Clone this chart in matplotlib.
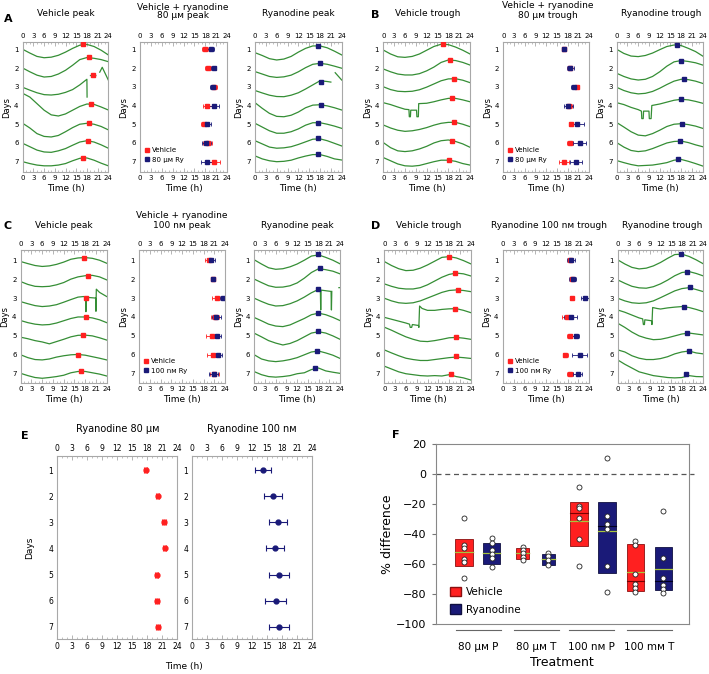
import numpy as np
import matplotlib.pyplot as plt
from matplotlib.ticker import MultipleLocator
from matplotlib.lines import Line2D
from matplotlib.patches import Patch

W, H = 709, 674
nan = np.nan
days = [1, 2, 3, 4, 5, 6, 7]
hrs = [0, 2, 4, 6, 8, 10, 12, 14, 16, 18, 20, 22, 24]

# traces: height above the day line (day units), sampled every 2 h
# A, vehicle peak
a_veh = [
    [0, -0.2, -0.38, -0.45, -0.42, -0.32, -0.15, 0.05, 0.22, 0.26, 0.15, -0.05, -0.3],
    [0, -0.2, -0.38, -0.48, -0.45, -0.32, -0.12, 0.15, 0.45, 0.56, 0.52, 0.45, 0.34],
    [-0.03, -0.18, -0.32, -0.42, -0.44, -0.4, -0.3, -0.15, 0.1, 0.4, -0.55, nan, 0.6, 0.6, nan, 0.78, 1.04, 0.36],
    [0.65, 0.45, 0.1, -0.25, -0.5, -0.56, -0.45, -0.25, -0.05, 0.08, 0.06, -0.08, -0.24],
    [0.05, -0.2, -0.5, -0.65, -0.68, -0.6, -0.4, -0.18, 0, 0.05, 0.0, -0.12, -0.3],
    [-0.02, -0.2, -0.38, -0.48, -0.5, -0.42, -0.3, -0.12, 0.05, 0.12, 0.05, -0.1, -0.28],
    [0, -0.1, -0.18, -0.22, -0.22, -0.18, -0.1, 0.05, 0.18, 0.2, 0.08, -0.08, -0.22],
]
a_veh_h = {2: [0, 2, 4, 6, 8, 10, 12, 14, 16, 18, 18.05, nan, 19, 20.5, nan, 21.6, 22.3, 24]}
a_veh_pk_t = [17.0, 18.7, 19.6, 19.1, 18.7, 18.4, 17.0]
a_veh_pk_y = [0.72, 1.43, 2.38, 3.9, 4.92, 5.88, 6.8]

# A, ryanodine peak
a_ry = [
    [-0.18, -0.33, -0.5, -0.57, -0.52, -0.38, -0.15, 0.05, 0.18, 0.18, 0.08, -0.1, -0.3],
    [-0.19, -0.32, -0.45, -0.5, -0.47, -0.38, -0.2, 0.02, 0.2, 0.25, 0.2, 0.1, -0.01],
    [-0.2, -0.33, -0.45, -0.52, -0.53, -0.45, -0.32, -0.12, 0.1, 0.32, 0.28, 0.25, nan, 0.75, 0.36],
    [0.15, -0.15, -0.42, -0.58, -0.6, -0.52, -0.35, -0.12, 0.02, 0.04, -0.02, -0.12, -0.24],
    [0.05, -0.15, -0.35, -0.48, -0.48, -0.4, -0.25, -0.05, 0.08, 0.08, 0.0, -0.1, -0.22],
    [0.12, -0.05, -0.22, -0.28, -0.26, -0.2, -0.08, 0.06, 0.2, 0.22, 0.12, -0.02, -0.16],
    [0.31, 0.15, 0.05, 0.0, 0.02, 0.08, 0.2, 0.3, 0.38, 0.38, 0.28, 0.15, 0.09],
]
a_ry_h = {2: [0, 2, 4, 6, 8, 10, 12, 14, 16, 18, 20, 21, nan, 22.2, 24]}
a_ry_pk_t = [17.4, 17.9, 18.4, 18.3, 17.5, 17.4, 17.4]
a_ry_pk_y = [0.8, 1.75, 2.72, 3.97, 4.91, 5.75, 6.59]

# A, middle
a_mid_veh = [18.0, 18.7, 20.4, 18.6, 17.6, 18.7, 20.3]
a_mid_veh_err = [0.8, 0.8, 0.9, 1.3, 0.8, 1.2, 1.9]
a_mid_ry = [19.5, 20.3, 20.0, 20.4, 18.5, 18.3, 18.6]
a_mid_ry_err = [1.0, 0.8, 0.8, 1.3, 1.2, 1.2, 1.9]

# B, vehicle trough
b_veh = [
    [-0.04, -0.25, -0.4, -0.43, -0.38, -0.25, -0.05, 0.15, 0.27, 0.25, 0.12, -0.05, -0.25],
    [-0.05, -0.2, -0.32, -0.37, -0.37, -0.3, -0.15, 0.05, 0.3, 0.43, 0.4, 0.3, 0.16],
    [0.0, -0.15, -0.24, -0.26, -0.24, -0.16, -0.02, 0.15, 0.32, 0.42, 0.43, 0.35, 0.22],
    [0.15, 0.05, -0.08, -0.2, -0.22, -0.6, -0.6, -0.25, -0.25, -0.6, -0.6, 0.1, 0.12, 0.2, 0.3, 0.38, 0.38, 0.3, 0.2],
    [-0.04, -0.2, -0.32, -0.38, -0.35, -0.28, -0.18, -0.05, 0.05, 0.1, 0.1, 0.0, -0.13],
    [0.02, -0.25, -0.42, -0.46, -0.42, -0.32, -0.18, 0.0, 0.12, 0.16, 0.08, -0.05, -0.23],
    [0.22, 0.05, -0.12, -0.22, -0.24, -0.2, -0.1, 0.0, 0.08, 0.08, 0.02, -0.1, -0.18],
]
b_veh_h = {3: [0, 2, 4, 6, 7.1, 7.2, 7.5, 7.6, 9.2, 9.3, 9.7, 9.8, 12, 14, 16, 18, 20, 22, 24]}
b_veh_pk_t = [16.6, 18.5, 19.6, 19.0, 19.6, 19.0, 18.1]
b_veh_pk_y = [0.72, 1.57, 2.57, 3.62, 4.88, 5.87, 6.92]

# B, ryanodine trough
b_ry = [
    [0, -0.22, -0.36, -0.39, -0.33, -0.2, -0.02, 0.15, 0.23, 0.2, 0.05, -0.12, -0.36],
    [-0.28, -0.45, -0.58, -0.64, -0.6, -0.45, -0.2, 0.1, 0.33, 0.4, 0.35, 0.28, 0.16],
    [-0.03, -0.2, -0.32, -0.38, -0.35, -0.25, -0.08, 0.12, 0.3, 0.4, 0.38, 0.3, 0.18],
    [0.15, 0.05, -0.1, -0.22, -0.3, -0.7, -0.7, -0.3, -0.3, -0.7, -0.7, 0.0, 0.08, 0.18, 0.28, 0.33, 0.3, 0.22, 0.12],
    [0.09, -0.15, -0.4, -0.58, -0.62, -0.5, -0.32, -0.12, 0.0, 0.03, -0.02, -0.1, -0.22],
    [0.02, -0.22, -0.4, -0.46, -0.42, -0.3, -0.15, 0.0, 0.08, 0.1, 0.02, -0.1, -0.2],
    [0.06, -0.05, -0.15, -0.22, -0.2, -0.18, -0.12, -0.05, 0.08, 0.12, 0.02, -0.1, -0.23],
]
b_ry_h = {3: [0, 2, 4, 6, 6.9, 7.0, 7.4, 7.5, 9.0, 9.1, 9.6, 9.8, 12, 14, 16, 18, 20, 22, 24]}
b_ry_pk_t = [16.7, 18.0, 18.8, 18.0, 18.2, 17.8, 17.2]
b_ry_pk_y = [0.77, 1.6, 2.6, 3.67, 4.97, 5.9, 6.88]

# B, middle
b_mid_veh = [17.0, 18.7, 20.7, 18.3, 18.9, 18.7, 17.1]
b_mid_veh_err = [0.4, 0.6, 0.6, 0.8, 0.6, 0.9, 1.4]
b_mid_ry = [17.1, 18.8, 19.9, 18.2, 20.7, 21.4, 20.4]
b_mid_ry_err = [0.5, 0.9, 1.0, 1.3, 1.8, 1.8, 1.6]

# C, vehicle peak
c_veh = [
    [-0.07, -0.18, -0.28, -0.33, -0.3, -0.22, -0.1, 0.05, 0.12, 0.14, 0.1, 0.0, -0.16],
    [-0.13, -0.28, -0.38, -0.4, -0.38, -0.3, -0.18, 0.0, 0.12, 0.18, 0.2, 0.12, -0.04],
    [-0.19, -0.3, -0.4, -0.45, -0.42, -0.35, -0.22, -0.08, 0.05, 0.08, 0.06, -0.72, 0.04, 0.0, -0.7, 0.47, 0.3, 0.08],
    [-0.19, -0.3, -0.38, -0.42, -0.4, -0.32, -0.2, -0.08, 0.0, 0.0, -0.05, -0.15, -0.3],
    [-0.07, -0.15, -0.25, -0.32, -0.42, -0.3, -0.18, -0.05, 0.03, 0.04, 0.0, -0.1, -0.22],
    [0.0, -0.15, -0.25, -0.27, -0.22, -0.12, -0.05, 0.0, 0.02, -0.02, -0.1, -0.18, -0.27],
    [0.02, -0.1, -0.2, -0.24, -0.2, -0.15, -0.08, 0.05, 0.12, 0.12, 0.05, -0.02, -0.12],
]
c_veh_h = {2: [0, 2, 4, 6, 8, 10, 12, 14, 16, 17.5, 18.1, 18.2, 18.3, 20.9, 21.0, 21.1, 22, 24]}
c_veh_pk_t = [17.8, 18.9, 18.2, 18.2, 17.3, 16.1, 16.8]
c_veh_pk_y = [0.86, 1.81, 2.98, 4.02, 4.95, 6.0, 6.84]

# C, ryanodine peak
c_ry = [
    [0.02, -0.2, -0.4, -0.48, -0.45, -0.35, -0.2, 0.0, 0.22, 0.28, 0.15, 0.0, -0.19],
    [0.0, -0.18, -0.35, -0.43, -0.42, -0.35, -0.2, 0.05, 0.35, 0.55, 0.5, 0.42, 0.28],
    [-0.01, -0.18, -0.33, -0.42, -0.4, -0.3, -0.15, 0.05, 0.28, 0.45, 0.42, -0.63, 0.42, 0.35, -0.63, 0.35, nan, 0.55, 0.55],
    [-0.03, -0.2, -0.38, -0.48, -0.51, -0.42, -0.25, -0.08, 0.12, 0.2, 0.12, -0.02, -0.19],
    [0.14, -0.05, -0.25, -0.38, -0.48, -0.4, -0.25, -0.05, 0.15, 0.22, 0.15, 0.0, -0.18],
    [0.0, -0.22, -0.32, -0.36, -0.32, -0.25, -0.15, 0.0, 0.15, 0.2, 0.1, -0.02, -0.19],
    [0.11, -0.05, -0.15, -0.18, -0.15, -0.1, 0.0, 0.05, 0.22, 0.3, 0.15, 0.08, 0.02],
]
c_ry_h = {2: [0, 2, 4, 6, 8, 10, 12, 14, 16, 17.9, 18.5, 18.6, 18.7, 21.5, 21.6, 21.7, nan, 23.7, 24]}
c_ry_pk_t = [17.8, 18.4, 17.9, 17.9, 17.9, 17.5, 17.0]
c_ry_pk_y = [0.68, 1.39, 2.53, 3.8, 4.74, 5.78, 6.68]

# C, middle
c_mid_veh = [19.6, 20.6, 21.8, 21.2, 20.4, 20.7, 21.0]
c_mid_veh_err = [1.1, 0.6, 1.5, 1.2, 1.6, 1.8, 1.2]
c_mid_ry = [20.2, 20.7, 23.3, 21.6, 21.7, 22.1, 20.8]
c_mid_ry_err = [1.0, 0.6, 0.8, 1.2, 1.2, 1.0, 1.2]

# D, vehicle trough
d_veh = [
    [-0.07, -0.28, -0.45, -0.55, -0.53, -0.42, -0.25, -0.05, 0.15, 0.19, 0.12, -0.02, -0.19],
    [-0.25, -0.38, -0.48, -0.52, -0.52, -0.45, -0.3, -0.1, 0.1, 0.25, 0.32, 0.28, 0.17],
    [-0.01, -0.15, -0.25, -0.28, -0.25, -0.15, 0.0, 0.15, 0.3, 0.4, 0.43, 0.4, 0.34],
    [-0.02, -0.12, -0.22, -0.32, -0.38, -0.55, -0.55, -0.4, -0.45, -0.55, 0.58, 0.45, 0.35, 0.35, 0.4, 0.43, 0.44, 0.35, 0.23],
    [0.46, 0.3, 0.12, -0.05, -0.18, -0.28, -0.3, -0.25, -0.18, -0.1, -0.08, -0.12, -0.18],
    [0.26, 0.1, -0.05, -0.18, -0.25, -0.3, -0.3, -0.25, -0.2, -0.15, -0.12, -0.15, -0.19],
    [0.4, 0.25, 0.1, 0.0, -0.05, -0.1, -0.12, -0.1, -0.12, -0.05, -0.15, -0.22, -0.33],
]
d_veh_h = {3: [0, 2, 4, 6, 7, 7.2, 7.6, 7.8, 9.5, 9.6, 9.8, 10.5, 12, 14, 16, 18, 20, 22, 24]}
d_veh_pk_t = [18.1, 19.6, 20.6, 19.6, 19.9, 19.9, 18.5]
d_veh_pk_y = [0.81, 1.65, 2.57, 3.56, 5.04, 6.06, 7.02]

# D, ryanodine trough
d_ry = [
    [0.02, -0.2, -0.38, -0.46, -0.42, -0.3, -0.12, 0.1, 0.3, 0.32, 0.2, 0.02, -0.19],
    [-0.04, -0.22, -0.38, -0.46, -0.48, -0.4, -0.25, -0.05, 0.18, 0.35, 0.4, 0.3, 0.17],
    [-0.01, -0.15, -0.25, -0.28, -0.25, -0.15, 0.02, 0.2, 0.38, 0.5, 0.55, 0.45, 0.34],
    [0.37, 0.25, 0.1, -0.05, -0.1, -0.4, -0.4, -0.15, -0.2, -0.4, 0.5, 0.45, 0.42, 0.48, 0.52, 0.55, 0.5, 0.4, 0.28],
    [0.67, 0.45, 0.2, 0.0, -0.12, -0.2, -0.18, -0.1, 0.0, 0.1, 0.15, 0.1, 0.05],
    [0.26, 0.15, -0.05, -0.18, -0.25, -0.25, -0.2, -0.1, 0.05, 0.15, 0.2, 0.1, 0.05],
    [0.73, 0.5, 0.3, 0.1, 0.0, -0.1, -0.15, -0.2, -0.22, -0.2, -0.1, -0.15, -0.16],
]
d_ry_h = {3: [0, 2, 4, 6, 7, 7.2, 7.5, 7.6, 9.5, 9.6, 9.8, 11, 12, 14, 16, 18, 20, 22, 24]}
d_ry_pk_t = [17.8, 19.3, 20.3, 18.6, 19.5, 20.0, 19.2]
d_ry_pk_y = [0.66, 1.6, 2.43, 3.45, 4.83, 5.78, 7.02]

# D, middle
d_mid_veh = [18.6, 19.3, 19.1, 17.8, 18.7, 17.3, 18.7]
d_mid_veh_err = [0.5, 0.6, 0.5, 1.5, 1.0, 0.7, 0.8]
d_mid_ry = [18.9, 19.4, 22.8, 18.9, 20.2, 21.3, 20.8]
d_mid_ry_err = [1.2, 1.0, 1.0, 1.8, 1.0, 2.0, 1.2]

# E
e_80 = [17.7, 20.1, 21.3, 21.5, 19.9, 20.0, 20.1]
e_80_err = [0.3, 0.3, 0.4, 0.3, 0.3, 0.4, 0.4]
e_100 = [14.1, 16.1, 17.2, 16.6, 17.3, 16.7, 17.3]
e_100_err = [1.6, 1.8, 1.8, 1.8, 2.0, 2.1, 2.0]

# F
f_groups = ['80 μᴍ P', '80 μᴍ T', '100 nᴍ P', '100 mᴍ T']
f_pos = [1.0, 2.0, 3.1, 4.0, 5.1, 6.1, 7.1, 8.1]
f_wid = [0.65, 0.6, 0.47, 0.47, 0.62, 0.62, 0.6, 0.6]
f_q1 = [-61.6, -60.0, -56.9, -60.9, -48.0, -65.8, -78.2, -77.3]
f_q3 = [-43.3, -46.0, -49.1, -53.3, -18.4, -18.4, -46.9, -48.4]
f_med = [-52.2, -52.7, -52.9, -56.9, -26.2, -34.7, -71.1, -71.3]
f_mean = [-52.2, -52.7, -52.9, -56.9, -31.3, -37.8, -65.1, -63.6]
f_pts = [
    [-29.6, -47.6, -49.3, -56.4, -58.9, -69.6],
    [-42.9, -46.0, -50.9, -53.3, -56.0, -62.2],
    [-48.4, -50.7, -52.9, -55.1, -57.3],
    [-52.4, -54.7, -57.5, -60.9],
    [-8.4, -21.3, -22.4, -29.1, -43.1, -61.3],
    [10.4, -28.0, -33.3, -36.4, -61.1, -78.7],
    [-44.9, -47.6, -66.9, -73.6, -76.2, -78.7],
    [-24.9, -55.8, -69.3, -74.0, -76.7, -79.1],
]

green = '#358e35'
red = '#ff2020'
navy = '#1a1a78'
gray = '#a8a8a8'

fig = plt.figure(figsize=(W / 100, H / 100), dpi=100)


def rect(x0, y0, x1, y1):
    return [x0 / W, 1 - y1 / H, (x1 - x0) / W, (y1 - y0) / H]


def ftxt(x, y, s, **kw):
    kw.setdefault('ha', 'center')
    kw.setdefault('va', 'center')
    fig.text(x / W, 1 - y / H, s, **kw)


def style(ax, ylim, fs=5):
    ax.set_xlim(0, 24)
    ax.set_ylim(*ylim)
    ax.xaxis.set_major_locator(MultipleLocator(3))
    ax.xaxis.set_minor_locator(MultipleLocator(1))
    ax.set_yticks(days)
    ax.tick_params(axis='x', which='both', direction='in', top=True, labeltop=True,
                   labelsize=fs, color=gray, pad=2)
    ax.tick_params(axis='x', which='major', length=3, width=0.6)
    ax.tick_params(axis='x', which='minor', length=1.5, width=0.5)
    ax.tick_params(axis='y', length=0, labelsize=fs, pad=3)
    for s in ax.spines.values():
        s.set_color(gray)
        s.set_linewidth(0.8)


def trace_panel(r, offs, special, pk_t, pk_y, col, ylim):
    ax = fig.add_axes(r)
    for i, off in enumerate(offs):
        h = np.array(special.get(i, hrs), dtype=float)
        ax.plot(h, days[i] - np.array(off, dtype=float), color=green, lw=0.9)
    ax.plot(pk_t, pk_y, 's', color=col, ms=3.2, zorder=3)
    style(ax, ylim)
    ax.set_ylabel('Days', fontsize=6, labelpad=2)
    ax.set_xlabel('Time (h)', fontsize=6.5, labelpad=2)
    return ax


def mid_panel(r, veh, veh_err, ry, ry_err, ry_label, ylim):
    ax = fig.add_axes(r)
    ax.errorbar(veh, days, xerr=veh_err, fmt='s', color=red, ms=3.2, elinewidth=0.6,
                capsize=1.2, capthick=0.6)
    ax.errorbar(ry, days, xerr=ry_err, fmt='s', color=navy, ms=3.2, elinewidth=0.6,
                capsize=1.2, capthick=0.6)
    style(ax, ylim)
    ax.set_ylabel('Days', fontsize=6, labelpad=2)
    ax.set_xlabel('Time (h)', fontsize=6.5, labelpad=2)
    hl = [Line2D([], [], ls='', marker='s', color=red, ms=3),
          Line2D([], [], ls='', marker='s', color=navy, ms=3)]
    ax.legend(hl, ['Vehicle', ry_label], loc='lower left', bbox_to_anchor=(0.0, 0.04),
              frameon=False, fontsize=5, handlelength=0.8, handletextpad=0.3,
              borderaxespad=0.2, labelspacing=0.5)
    return ax


ylim1 = (7.55, 0.61)
ylim2 = (7.49, 0.46)

# row 1
trace_panel(rect(22.7, 42, 108.3, 172), a_veh, a_veh_h, a_veh_pk_t, a_veh_pk_y, red, ylim1)
mid_panel(rect(140, 42, 227, 172), a_mid_veh, a_mid_veh_err, a_mid_ry, a_mid_ry_err, '80 μᴍ Ry', ylim1)
trace_panel(rect(255, 42, 341.7, 172), a_ry, a_ry_h, a_ry_pk_t, a_ry_pk_y, navy, ylim1)
trace_panel(rect(383.3, 42, 470, 172), b_veh, b_veh_h, b_veh_pk_t, b_veh_pk_y, red, ylim1)
mid_panel(rect(503.3, 42, 589, 172), b_mid_veh, b_mid_veh_err, b_mid_ry, b_mid_ry_err, '80 μᴍ Ry', ylim1)
trace_panel(rect(616.7, 42, 702.7, 172), b_ry, b_ry_h, b_ry_pk_t, b_ry_pk_y, navy, ylim1)

# row 2
trace_panel(rect(20.7, 250, 106.7, 383), c_veh, c_veh_h, c_veh_pk_t, c_veh_pk_y, red, ylim2)
mid_panel(rect(139.3, 250, 225, 383), c_mid_veh, c_mid_veh_err, c_mid_ry, c_mid_ry_err, '100 nᴍ Ry', ylim2)
trace_panel(rect(254.3, 250, 340, 383), c_ry, c_ry_h, c_ry_pk_t, c_ry_pk_y, navy, ylim2)
trace_panel(rect(384.3, 250, 470.7, 383), d_veh, d_veh_h, d_veh_pk_t, d_veh_pk_y, red, ylim2)
mid_panel(rect(502.7, 250, 589.3, 383), d_mid_veh, d_mid_veh_err, d_mid_ry, d_mid_ry_err, '100 nᴍ Ry', ylim2)
trace_panel(rect(617.7, 250, 703.3, 383), d_ry, d_ry_h, d_ry_pk_t, d_ry_pk_y, navy, ylim2)

# titles and panel letters, rows 1-2
tfs = 6.5
ftxt(66, 14, 'Vehicle peak', fontsize=tfs)
ftxt(183, 7, 'Vehicle + ryanodine', fontsize=tfs)
ftxt(183, 16, '80 μᴍ peak', fontsize=tfs)
ftxt(298, 14, 'Ryanodine peak', fontsize=tfs)
ftxt(428, 14, 'Vehicle trough', fontsize=tfs)
ftxt(548, 6, 'Vehicle + ryanodine', fontsize=tfs)
ftxt(548, 15, '80 μᴍ trough', fontsize=tfs)
ftxt(661, 14, 'Ryanodine trough', fontsize=tfs)
ftxt(64, 225, 'Vehicle peak', fontsize=tfs)
ftxt(182, 215, 'Vehicle + ryanodine', fontsize=tfs)
ftxt(182, 225, '100 nᴍ peak', fontsize=tfs)
ftxt(297, 225, 'Ryanodine peak', fontsize=tfs)
ftxt(429, 225, 'Vehicle trough', fontsize=tfs)
ftxt(549, 225, 'Ryanodine 100 nᴍ trough', fontsize=tfs)
ftxt(662, 225, 'Ryanodine trough', fontsize=tfs)
for x, y, s in [(4, 19, 'A'), (371, 15, 'B'), (4, 226, 'C'), (371, 226, 'D'),
                (21, 436, 'E'), (392, 435, 'F')]:
    ftxt(x, y, s, fontsize=8, fontweight='bold', ha='left')

# E
ylimE = (7.47, 0.46)
axe1 = fig.add_axes(rect(57.3, 456, 177.3, 639))
axe1.errorbar(e_80, days, xerr=e_80_err, fmt='o', color=red, ms=3.5, elinewidth=0.8,
              capsize=2, capthick=0.8)
style(axe1, ylimE, fs=5.5)
axe1.set_ylabel('Days', fontsize=6.5, labelpad=10)
axe1.set_title('Ryanodine 80 μᴍ', fontsize=7, pad=17)
axe2 = fig.add_axes(rect(192.3, 456, 312.3, 639))
axe2.errorbar(e_100, days, xerr=e_100_err, fmt='o', color=navy, ms=3.5, elinewidth=0.8,
              capsize=2, capthick=0.8)
style(axe2, ylimE, fs=5.5)
axe2.set_title('Ryanodine 100 nᴍ', fontsize=7, pad=17)
ftxt(184, 667, 'Time (h)', fontsize=6.5)

# F
axf = fig.add_axes(rect(435.7, 444, 688.7, 624))
cols = [red, navy] * 4
edges = ['#8a1010', '#101040'] * 4
medc = ['#7a0000', '#000020'] * 4
for i in range(8):
    axf.bar(f_pos[i], f_q3[i] - f_q1[i], bottom=f_q1[i], width=f_wid[i], color=cols[i],
            edgecolor=edges[i], linewidth=0.6, zorder=2)
    hw = f_wid[i] / 2
    axf.plot([f_pos[i] - hw, f_pos[i] + hw], [f_med[i]] * 2, color=medc[i], lw=0.8, zorder=3)
    axf.plot([f_pos[i] - hw, f_pos[i] + hw], [f_mean[i]] * 2, color='#a8c43c', lw=0.9, zorder=3)
    axf.plot([f_pos[i]] * len(f_pts[i]), f_pts[i], 'o', mfc='white', mec='#222222',
             mew=0.6, ms=3.6, zorder=4)
axf.axhline(0, xmax=1.02, color='#555555', lw=0.9, ls=(0, (4, 3)), zorder=1, clip_on=False)
axf.set_xlim(0, 9)
axf.set_ylim(-100, 20)
axf.set_yticks(range(-100, 21, 20))
axf.tick_params(axis='y', labelsize=8, length=3, color='#777777')
grp_c = [1.52, 3.58, 5.55, 7.6]
axf.set_xticks(grp_c)
axf.set_xticklabels(f_groups, fontsize=7.5)
axf.tick_params(axis='x', length=0, pad=13)
for c in grp_c:
    axf.plot([c - 0.8, c + 0.8], [-104, -104], color='#666666', lw=0.8, clip_on=False)
axf.set_xlabel('Treatment', fontsize=9, labelpad=3)
axf.set_ylabel('% difference', fontsize=9, labelpad=2)
for s in axf.spines.values():
    s.set_color('#888888')
    s.set_linewidth(0.8)
axf.legend([Patch(facecolor=red, edgecolor='#8a1010'), Patch(facecolor=navy, edgecolor='#101040')],
           ['Vehicle', 'Ryanodine'], loc='lower left', bbox_to_anchor=(0.02, 0.0),
           frameon=False, fontsize=7.5, handlelength=1.0, handleheight=1.0,
           handletextpad=0.5, labelspacing=0.7)

fig.savefig('out.png', dpi=100)
